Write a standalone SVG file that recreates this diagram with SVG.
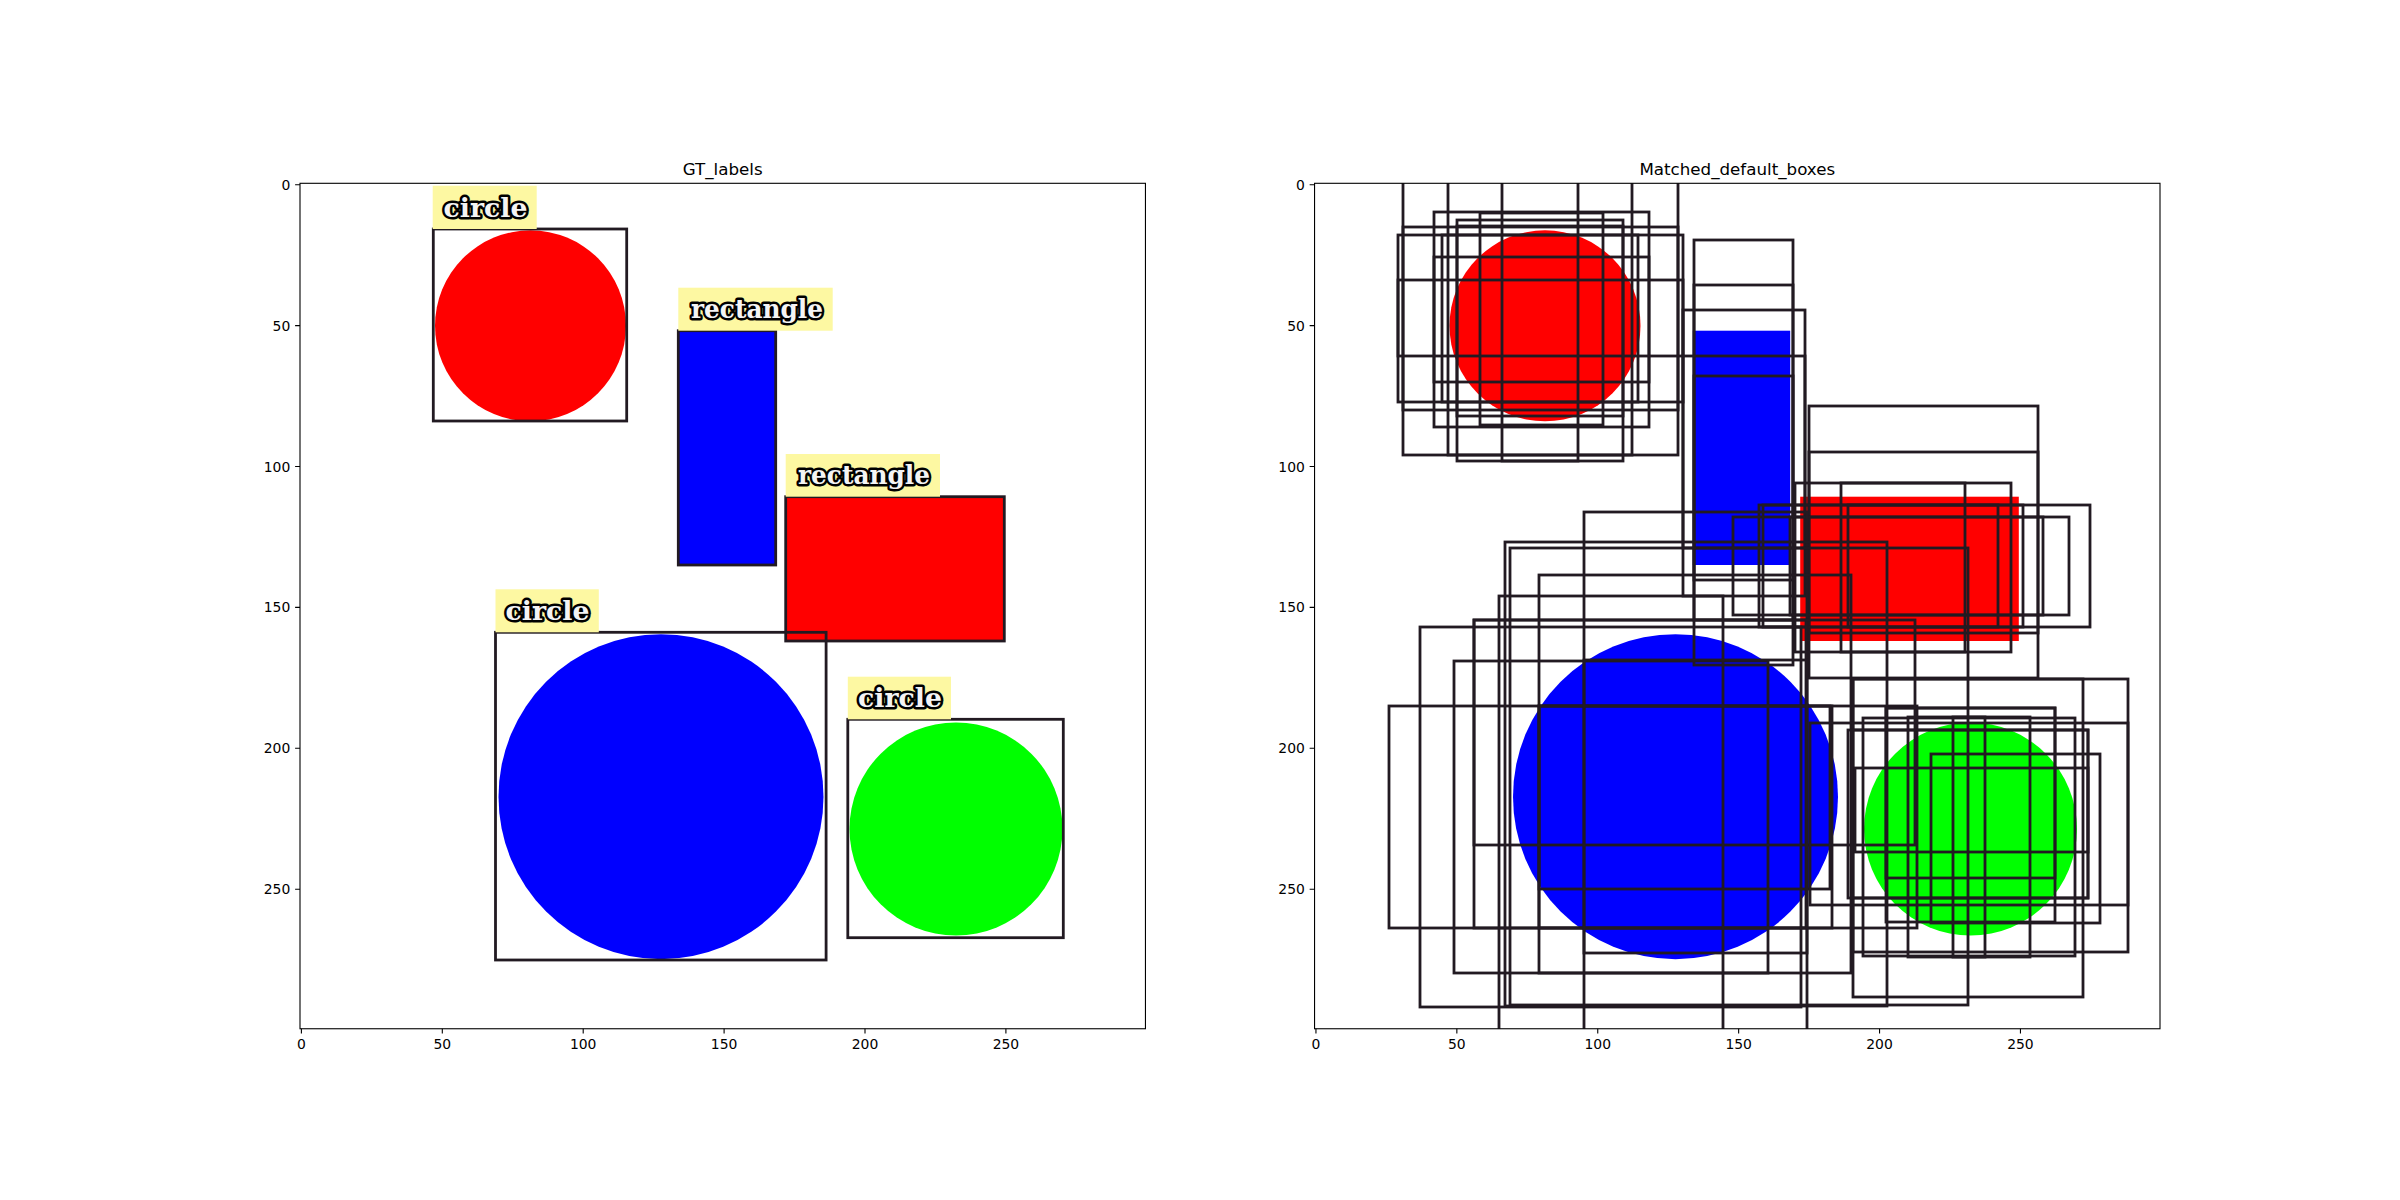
<svg xmlns="http://www.w3.org/2000/svg" width="2400" height="1200" viewBox="0 0 2400 1200">
<style>
.bg{fill:#fff}
.spine{fill:none;stroke:#000;stroke-width:1.1}
.tick{stroke:#000;stroke-width:1.1}
.tl{font-family:"DejaVu Sans",sans-serif;font-size:13.9px;fill:#000}
.title{font-family:"DejaVu Sans",sans-serif;font-size:16.7px;fill:#000;text-anchor:middle}
.box{fill:none;stroke:#221a22;stroke-width:2.8}
.gt{fill:none;stroke:#221a22;stroke-width:2.8}
.yl{fill:#fdf8a2}
.lbl{font-family:"DejaVu Serif",serif;font-weight:bold;font-size:26px;fill:#f4f4f4;stroke:#000;stroke-width:5;paint-order:stroke;stroke-linejoin:round}
.red{fill:#ff0000}.blue{fill:#0000ff}.green{fill:#00ff00}
</style>
<defs>
<clipPath id="clipL"><rect x="300" y="183.3" width="845.45" height="845.45"/></clipPath>
<clipPath id="clipR"><rect x="1314.55" y="183.3" width="845.45" height="845.45"/></clipPath>
</defs>
<rect class="bg" x="0" y="0" width="2400" height="1200"/>

<!-- LEFT PANEL -->
<g id="left-panel">
<text class="title" x="722.7" y="175">GT_labels</text>
<g clip-path="url(#clipL)">
<g id="gt-circle-red"><circle class="red" cx="530.5" cy="325.8" r="95.5"/><rect class="gt" x="433.3" y="229" width="193.4" height="192"/><rect class="yl" x="432.7" y="185.7" width="104" height="43.3"/><text class="lbl" x="443.5" y="216.5" textLength="84" lengthAdjust="spacingAndGlyphs">circle</text></g>
<g id="gt-rect-blue"><rect class="blue" x="678.3" y="330.7" width="97.4" height="234.3"/><rect class="gt" x="678.3" y="330.7" width="97.4" height="234.3"/><rect class="yl" x="678.3" y="287.7" width="154.4" height="43"/><text class="lbl" x="691" y="318" textLength="132" lengthAdjust="spacingAndGlyphs">rectangle</text></g>
<g id="gt-rect-red"><rect class="red" x="785.7" y="496.7" width="218.6" height="144.3"/><rect class="gt" x="785.7" y="496.7" width="218.6" height="144.3"/><rect class="yl" x="785.7" y="454" width="154.3" height="42.7"/><text class="lbl" x="798" y="484" textLength="132" lengthAdjust="spacingAndGlyphs">rectangle</text></g>
<g id="gt-circle-blue"><circle class="blue" cx="661" cy="796.7" r="162.5"/><rect class="gt" x="495.5" y="632.3" width="330.6" height="327.7"/><rect class="yl" x="495.5" y="589.3" width="103.3" height="43"/><text class="lbl" x="505.5" y="619.5" textLength="84" lengthAdjust="spacingAndGlyphs">circle</text></g>
<g id="gt-circle-green"><circle class="green" cx="956" cy="829" r="106.5"/><rect class="gt" x="847.8" y="719.3" width="215.5" height="218.4"/><rect class="yl" x="847.8" y="676.7" width="103.2" height="42.6"/><text class="lbl" x="858" y="706.5" textLength="84" lengthAdjust="spacingAndGlyphs">circle</text></g>
</g>
<rect class="spine" x="300" y="183.3" width="845.45" height="845.45"/>
<g id="left-ticks">
<path class="tick" d="M301.4 1028.7v4.9M442.3 1028.7v4.9M583.2 1028.7v4.9M724.1 1028.7v4.9M865 1028.7v4.9M1005.9 1028.7v4.9M300 184.7h-4.9M300 325.6h-4.9M300 466.5h-4.9M300 607.4h-4.9M300 748.3h-4.9M300 889.2h-4.9"/>
<g class="tl" text-anchor="middle"><text x="301.4" y="1049">0</text><text x="442.3" y="1049">50</text><text x="583.2" y="1049">100</text><text x="724.1" y="1049">150</text><text x="865" y="1049">200</text><text x="1005.9" y="1049">250</text></g>
<g class="tl" text-anchor="end"><text x="290.3" y="189.7">0</text><text x="290.3" y="330.6">50</text><text x="290.3" y="471.5">100</text><text x="290.3" y="612.4">150</text><text x="290.3" y="753.3">200</text><text x="290.3" y="894.2">250</text></g>
</g>
</g>

<!-- RIGHT PANEL -->
<g id="right-panel">
<text class="title" x="1737.3" y="175">Matched_default_boxes</text>
<g clip-path="url(#clipR)">
<g id="shapes-right">
<circle class="red" cx="1545" cy="325.8" r="95.5"/>
<rect class="blue" x="1692.8" y="330.7" width="97.4" height="234.3"/>
<rect class="red" x="1800.2" y="496.7" width="218.6" height="144.3"/>
<circle class="blue" cx="1675.5" cy="796.7" r="162.5"/>
<circle class="green" cx="1970.5" cy="829" r="106.5"/>
</g>
<g id="connectors">
<rect class="box" x="1403" y="176" width="275" height="279"/>
<rect class="box" x="1448" y="176" width="184" height="279"/>
<rect class="box" x="1502" y="176" width="76" height="285"/>
<rect class="box" x="1457" y="220" width="166" height="241"/>
<rect class="box" x="1434" y="212" width="215" height="215"/>
<rect class="box" x="1398" y="235" width="285" height="167"/>
<rect class="box" x="1403" y="227" width="275" height="183"/>
<rect class="box" x="1442" y="235" width="196" height="167"/>
<rect class="box" x="1434" y="257" width="215" height="125"/>
<rect class="box" x="1480" y="213" width="123" height="212"/>
<rect class="box" x="1398" y="280" width="285" height="76"/>
<rect class="box" x="1457" y="226" width="166" height="190"/>
<rect class="box" x="1694" y="240" width="99" height="425"/>
<rect class="box" x="1694" y="285" width="99" height="335"/>
<rect class="box" x="1683" y="310" width="122" height="238"/>
<rect class="box" x="1694" y="376" width="99" height="204"/>
<rect class="box" x="1683" y="356" width="122" height="240"/>
<rect class="box" x="1809" y="406" width="229" height="272"/>
<rect class="box" x="1809" y="452" width="229" height="181"/>
<rect class="box" x="1795" y="483" width="216" height="169"/>
<rect class="box" x="1841" y="483" width="124" height="169"/>
<rect class="box" x="1759" y="505" width="331" height="122"/>
<rect class="box" x="1733" y="517" width="336" height="98"/>
<rect class="box" x="1848" y="505" width="150" height="122"/>
<rect class="box" x="1763" y="505" width="260" height="122"/>
<rect class="box" x="1790" y="517" width="253" height="98"/>
<rect class="box" x="1584" y="512" width="223" height="523"/>
<rect class="box" x="1389" y="706" width="443" height="222"/>
<rect class="box" x="1420" y="627" width="381" height="380"/>
<rect class="box" x="1454" y="661" width="314" height="312"/>
<rect class="box" x="1539" y="575" width="312" height="398"/>
<rect class="box" x="1474" y="620" width="332" height="308"/>
<rect class="box" x="1539" y="706" width="378" height="222"/>
<rect class="box" x="1474" y="620" width="441" height="225"/>
<rect class="box" x="1505" y="542" width="382" height="464"/>
<rect class="box" x="1510" y="548" width="458" height="457"/>
<rect class="box" x="1499" y="596" width="224" height="439"/>
<rect class="box" x="1539" y="706" width="291" height="183"/>
<rect class="box" x="1584" y="660" width="223" height="293"/>
<rect class="box" x="1853" y="679" width="275" height="273"/>
<rect class="box" x="1853" y="679" width="230" height="318"/>
<rect class="box" x="1886" y="708" width="169" height="170"/>
<rect class="box" x="1886" y="708" width="169" height="214"/>
<rect class="box" x="1863" y="718" width="212" height="238"/>
<rect class="box" x="1931" y="754" width="169" height="169"/>
<rect class="box" x="1848" y="730" width="240" height="168"/>
<rect class="box" x="1852" y="730" width="236" height="168"/>
<rect class="box" x="1855" y="768" width="233" height="84"/>
<rect class="box" x="1810" y="723" width="318" height="182"/>
<rect class="box" x="1908" y="717" width="77" height="240"/>
<rect class="box" x="1953" y="717" width="77" height="240"/>
</g>
</g>
<rect class="spine" x="1314.55" y="183.3" width="845.45" height="845.45"/>
<g id="right-ticks">
<path class="tick" d="M1315.95 1028.7v4.9M1456.85 1028.7v4.9M1597.75 1028.7v4.9M1738.65 1028.7v4.9M1879.55 1028.7v4.9M2020.45 1028.7v4.9M1314.55 184.7h-4.9M1314.55 325.6h-4.9M1314.55 466.5h-4.9M1314.55 607.4h-4.9M1314.55 748.3h-4.9M1314.55 889.2h-4.9"/>
<g class="tl" text-anchor="middle"><text x="1315.95" y="1049">0</text><text x="1456.85" y="1049">50</text><text x="1597.75" y="1049">100</text><text x="1738.65" y="1049">150</text><text x="1879.55" y="1049">200</text><text x="2020.45" y="1049">250</text></g>
<g class="tl" text-anchor="end"><text x="1304.85" y="189.7">0</text><text x="1304.85" y="330.6">50</text><text x="1304.85" y="471.5">100</text><text x="1304.85" y="612.4">150</text><text x="1304.85" y="753.3">200</text><text x="1304.85" y="894.2">250</text></g>
</g>
</g>
</svg>
